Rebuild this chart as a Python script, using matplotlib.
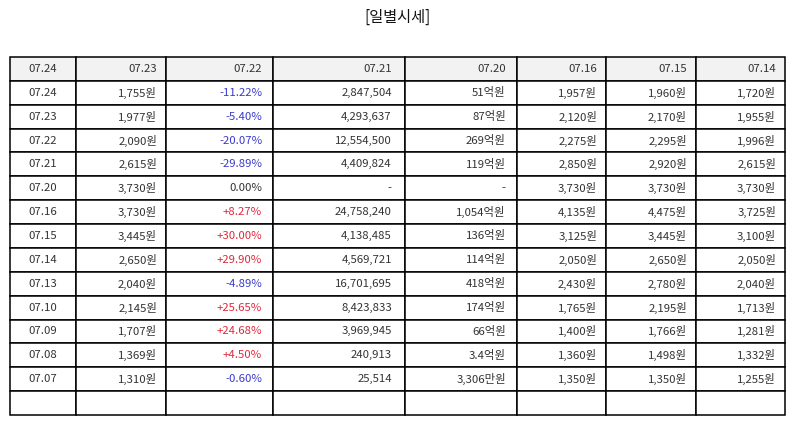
import matplotlib
matplotlib.use("Agg")
import matplotlib.pyplot as plt

plt.rcParams['font.family'] = ['Noto Sans CJK KR', 'DejaVu Sans']

title = "[일별시세]"
header = ["07.24", "07.23", "07.22", "07.21", "07.20", "07.16", "07.15", "07.14"]
dates = ["07.24", "07.23", "07.22", "07.21", "07.20", "07.16", "07.15", "07.14",
         "07.13", "07.10", "07.09", "07.08", "07.07"]
close = ["1,755원", "1,977원", "2,090원", "2,615원", "3,730원", "3,730원", "3,445원",
         "2,650원", "2,040원", "2,145원", "1,707원", "1,369원", "1,310원"]
change = ["-11.22%", "-5.40%", "-20.07%", "-29.89%", "0.00%", "+8.27%", "+30.00%",
          "+29.90%", "-4.89%", "+25.65%", "+24.68%", "+4.50%", "-0.60%"]
volume = ["2,847,504", "4,293,637", "12,554,500", "4,409,824", "-", "24,758,240",
          "4,138,485", "4,569,721", "16,701,695", "8,423,833", "3,969,945", "240,913", "25,514"]
amount = ["51억원", "87억원", "269억원", "119억원", "-", "1,054억원", "136억원",
          "114억원", "418억원", "174억원", "66억원", "3.4억원", "3,306만원"]
high = ["1,957원", "2,120원", "2,275원", "2,850원", "3,730원", "4,135원", "3,125원",
        "2,050원", "2,430원", "1,765원", "1,400원", "1,360원", "1,350원"]
open_ = ["1,960원", "2,170원", "2,295원", "2,920원", "3,730원", "4,475원", "3,445원",
         "2,650원", "2,780원", "2,195원", "1,766원", "1,498원", "1,350원"]
low = ["1,720원", "1,955원", "1,996원", "2,615원", "3,730원", "3,725원", "3,100원",
       "2,050원", "2,040원", "1,713원", "1,281원", "1,332원", "1,255원"]

col_widths = [66, 90, 107, 132, 112, 89, 90, 89]

W, H = 794, 425
fig = plt.figure(figsize=(W / 100, H / 100), dpi=100)
ax = fig.add_axes([0, 0, 1, 1])
ax.axis('off')

rows = [list(r) for r in zip(dates, close, change, volume, amount, high, open_, low)]
rows.append([""] * len(header))

total_w = sum(col_widths)
tbl = ax.table(cellText=rows, colLabels=header,
               colWidths=[w / total_w for w in col_widths],
               bbox=[10 / W, 10 / H, 775 / W, 358 / H],
               cellLoc='right', colLoc='right')
tbl.auto_set_font_size(False)
tbl.set_fontsize(8.2)

blue = '#3a3acc'
red = '#e0283c'
for (r, c), cell in tbl.get_celld().items():
    cell.set_edgecolor('black')
    cell.set_linewidth(1.1)
    txt = cell.get_text()
    txt.set_color('#333333')
    if r == 0:
        cell.set_facecolor('#f2f2f2')
    else:
        cell.set_facecolor('white')
    if c == 0:
        txt.set_ha('center')
        cell._loc = 'center'
    else:
        txt.set_ha('right')
        cell._loc = 'right'
    if c == 2 and r >= 1 and r - 1 < len(change):
        v = change[r - 1]
        if v.startswith('-'):
            txt.set_color(blue)
        elif v.startswith('+'):
            txt.set_color(red)

fig.text(0.5, 1 - 17 / H, title, ha='center', va='center', fontsize=11, color='#111111')

fig.savefig('out.png', dpi=100)
